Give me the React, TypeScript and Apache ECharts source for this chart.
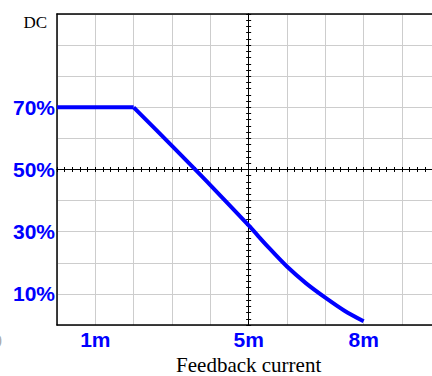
import React, { useEffect, useRef } from "react";
import * as echarts from "echarts";

const flatCurrentMA = [0, 2];
const flatDutyPct = [70, 70];
const slopeCurrentMA = [2, 3, 4, 5, 5.5, 6, 6.5, 7, 7.5, 8];
const slopeDutyPct = [70, 57.6, 45, 32, 25.2, 18.8, 13.4, 8.8, 4.6, 1.2];
const xTickLabels: Record<number, string> = { 1: "1m", 5: "5m", 8: "8m" };
const yTickLabels: Record<number, string> = { 10: "10%", 30: "30%", 50: "50%", 70: "70%" };
const yName = "DC";
const xName = "Feedback current";

const SANS = "'Liberation Sans', Arial, sans-serif";
const SERIF = "'Liberation Serif', 'Times New Roman', serif";
const BLUE = "#0000ff";
const GRID_LEFT = 57;
const GRID_TOP = 14;
const GRID_H = 311;
const GRID_W = 383.3;

const hidden = { show: false };

export default function App() {
  const ref = useRef<HTMLDivElement>(null);
  useEffect(() => {
    if (!ref.current) return;
    const chart = echarts.init(ref.current, undefined, { renderer: "svg" });
    const centerX = (inside: boolean) => ({
      type: "value",
      position: "bottom",
      offset: -GRID_H / 2,
      min: 0,
      max: 10,
      interval: 0.2,
      axisLine: { show: true, onZero: false, lineStyle: { color: "#000", width: 1 } },
      axisTick: { show: true, inside, length: 2.5, lineStyle: { color: "#000" } },
      axisLabel: hidden,
      splitLine: hidden,
    });
    const centerY = (inside: boolean) => ({
      type: "value",
      position: "left",
      offset: -GRID_W / 2,
      min: 0,
      max: 100,
      interval: 2,
      axisLine: { show: true, onZero: false, lineStyle: { color: "#000", width: 1 } },
      axisTick: { show: true, inside, length: 2.5, lineStyle: { color: "#000" } },
      axisLabel: hidden,
      splitLine: hidden,
    });
    const lineSeries = (xs: number[], ys: number[], smooth: number | boolean) => ({
      type: "line",
      xAxisIndex: 0,
      yAxisIndex: 0,
      data: xs.map((x, i) => [x, ys[i]]),
      showSymbol: false,
      symbol: "none",
      smooth,
      lineStyle: { color: BLUE, width: 4 },
      z: 5,
    });
    chart.setOption({
      animation: false,
      grid: {
        left: GRID_LEFT,
        top: GRID_TOP,
        width: GRID_W,
        height: GRID_H,
        containLabel: false,
        outerBoundsMode: "none",
      },
      xAxis: [
        {
          type: "value",
          position: "bottom",
          min: 0,
          max: 10,
          interval: 1,
          name: xName,
          nameLocation: "middle",
          nameGap: 28,
          nameTextStyle: { fontFamily: SERIF, fontSize: 21, lineHeight: 20, color: "#000" },
          axisLine: { show: true, onZero: false, lineStyle: { color: "#000", width: 1.5 } },
          axisTick: hidden,
          axisLabel: {
            margin: 4,
            color: BLUE,
            fontFamily: SANS,
            fontWeight: "bold",
            fontSize: 21,
            formatter: (v: number) => xTickLabels[Math.round(v)] ?? "",
          },
          splitLine: { show: true, lineStyle: { color: "#cdcdcd", width: 1 } },
        },
        {
          type: "value",
          position: "top",
          min: 0,
          max: 10,
          interval: 1,
          axisLine: { show: true, onZero: false, lineStyle: { color: "#000", width: 1.5 } },
          axisTick: hidden,
          axisLabel: hidden,
          splitLine: hidden,
        },
        centerX(true),
        centerX(false),
      ],
      yAxis: [
        {
          type: "value",
          position: "left",
          min: 0,
          max: 100,
          interval: 10,
          axisLine: { show: true, onZero: false, lineStyle: { color: "#000", width: 1.5 } },
          axisTick: hidden,
          axisLabel: {
            margin: 2,
            color: BLUE,
            fontFamily: SANS,
            fontWeight: "bold",
            fontSize: 21,
            padding: [6, 0, 0, 0],
            formatter: (v: number) => yTickLabels[Math.round(v)] ?? "",
          },
          splitLine: { show: true, lineStyle: { color: "#cdcdcd", width: 1 } },
        },
        centerY(true),
        centerY(false),
      ],
      graphic: [
        {
          type: "text",
          x: 47,
          y: 22,
          style: {
            text: yName,
            fontFamily: SERIF,
            fontSize: 17,
            fill: "#000",
            align: "right",
            verticalAlign: "middle",
          },
        },
        {
          type: "text",
          x: 2,
          y: 341,
          style: {
            text: "0",
            fontFamily: SANS,
            fontSize: 16,
            fill: "#aaaaaa",
            align: "right",
            verticalAlign: "middle",
          },
        },
      ],
      series: [
        lineSeries(flatCurrentMA, flatDutyPct, false),
        lineSeries(slopeCurrentMA, slopeDutyPct, 0.3),
      ],
    });
    return () => chart.dispose();
  }, []);
  return (
    <div
      ref={ref}
      style={{ position: "fixed", left: 0, top: 0, width: 432, height: 376, overflow: "hidden", background: "#fff" }}
    />
  );
}
